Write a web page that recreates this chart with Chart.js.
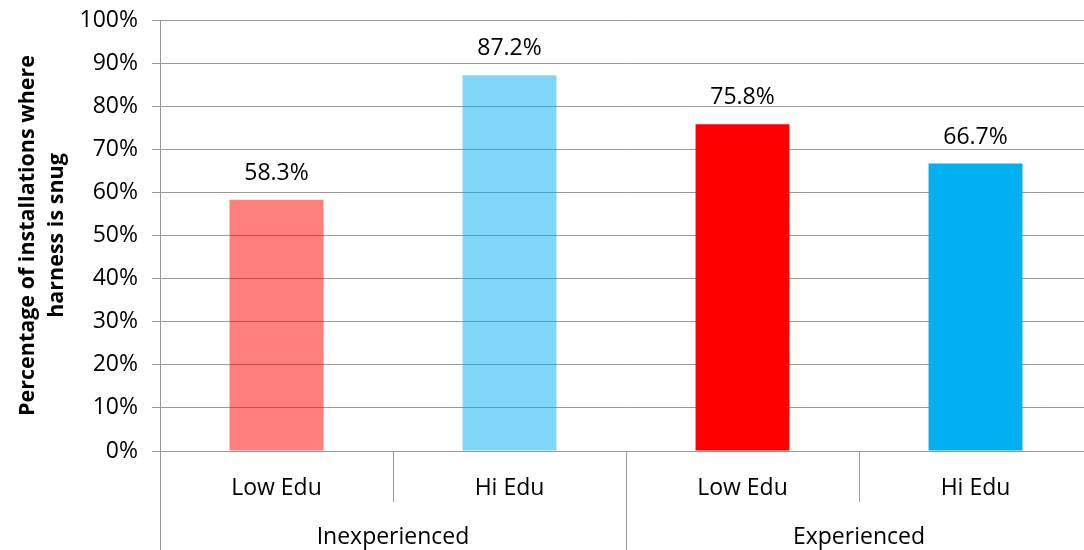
<!DOCTYPE html>
<html>
<head>
<meta charset="utf-8">
<script src="https://cdn.jsdelivr.net/npm/chart.js@4/dist/chart.umd.min.js"></script>
<style>
  html, body { margin: 0; padding: 0; background: #fff; overflow: hidden; }
  #wrap { position: relative; width: 1100px; height: 550px; }
</style>
</head>
<body>
<div id="wrap"><canvas id="harnessChart"></canvas></div>
<script>
// chart values
const eduLabels = ["Low Edu", "Hi Edu", "Low Edu", "Hi Edu"];
const groupLabels = ["Inexperienced", "Experienced"];
const snugPct = [58.3, 87.2, 75.8, 66.7];
const barColors = ["rgba(255,0,0,0.5)", "rgba(0,176,240,0.5)", "#ff0000", "#00b0f0"];
const yTicks = [0, 10, 20, 30, 40, 50, 60, 70, 80, 90, 100];

const gridColor = "#999999";
const fontFamily = "'Open Sans', sans-serif";

// value labels above the bars
const barLabels = {
  id: "barLabels",
  afterDatasetsDraw(chart) {
    const c = chart.ctx;
    const meta = chart.getDatasetMeta(0);
    c.save();
    c.font = "23px " + fontFamily;
    c.fillStyle = "#000";
    c.textAlign = "center";
    c.textBaseline = "alphabetic";
    meta.data.forEach((bar, i) => {
      c.fillText(snugPct[i].toFixed(1) + "%", bar.x, bar.y - 20);
    });
    c.restore();
  }
};

// category separators below the axis and the group row
const groupAxis = {
  id: "groupAxis",
  afterDraw(chart) {
    const c = chart.ctx;
    const x = chart.scales.x;
    const bottom = chart.chartArea.bottom;
    c.save();
    c.strokeStyle = gridColor;
    c.lineWidth = 1;
    for (let i = 0; i <= eduLabels.length; i++) {
      const px = Math.round(x.getPixelForValue(i - 0.5)) + 0.5;
      const long = i % 2 === 0;
      c.beginPath();
      c.moveTo(px, bottom);
      c.lineTo(px, long ? chart.height : bottom + 51);
      c.stroke();
    }
    c.font = "23px " + fontFamily;
    c.fillStyle = "#000";
    c.textAlign = "center";
    c.textBaseline = "middle";
    groupLabels.forEach((g, i) => {
      c.fillText(g, x.getPixelForValue(i * 2 + 0.5), 537);
    });
    c.restore();
  }
};

const ctx = document.getElementById("harnessChart");

new Chart(ctx, {
  type: "bar",
  data: {
    labels: eduLabels,
    datasets: [{
      data: snugPct,
      backgroundColor: barColors,
      borderWidth: 0,
      barPercentage: 0.403,
      categoryPercentage: 1
    }]
  },
  options: {
    responsive: true,
    maintainAspectRatio: false,
    animation: false,
    events: [],
    layout: { padding: { top: 20, right: 8, left: 0, bottom: 0 } },
    plugins: {
      legend: { display: false },
      tooltip: { enabled: false }
    },
    scales: {
      x: {
        afterFit(scale) {
          scale.height = 99;
          scale.paddingLeft = 0;
          scale.paddingRight = 0;
        },
        grid: { display: false, offset: true },
        border: { display: false },
        ticks: {
          color: "#000",
          font: { family: fontFamily, size: 23 },
          padding: 16,
          maxRotation: 0
        }
      },
      y: {
        min: 0,
        max: 100,
        afterFit(scale) {
          scale.width = 160;
          scale.paddingTop = 0;
          scale.paddingBottom = 0;
        },
        afterBuildTicks(scale) { scale.ticks = yTicks.map(v => ({ value: v })); },
        grid: { color: gridColor, lineWidth: 1, tickLength: 8 },
        border: { display: true, color: gridColor, width: 1 },
        ticks: {
          color: "#000",
          font: { family: fontFamily, size: 23 },
          padding: 14,
          callback: v => v + "%"
        },
        title: {
          display: true,
          text: ["Percentage of installations where", "harness is snug"],
          color: "#000",
          font: { family: fontFamily, size: 21.5, weight: "bold", lineHeight: "29px" },
          padding: { top: 13, bottom: 0 }
        }
      }
    }
  },
  plugins: [barLabels, groupAxis]
});
</script>
</body>
</html>
